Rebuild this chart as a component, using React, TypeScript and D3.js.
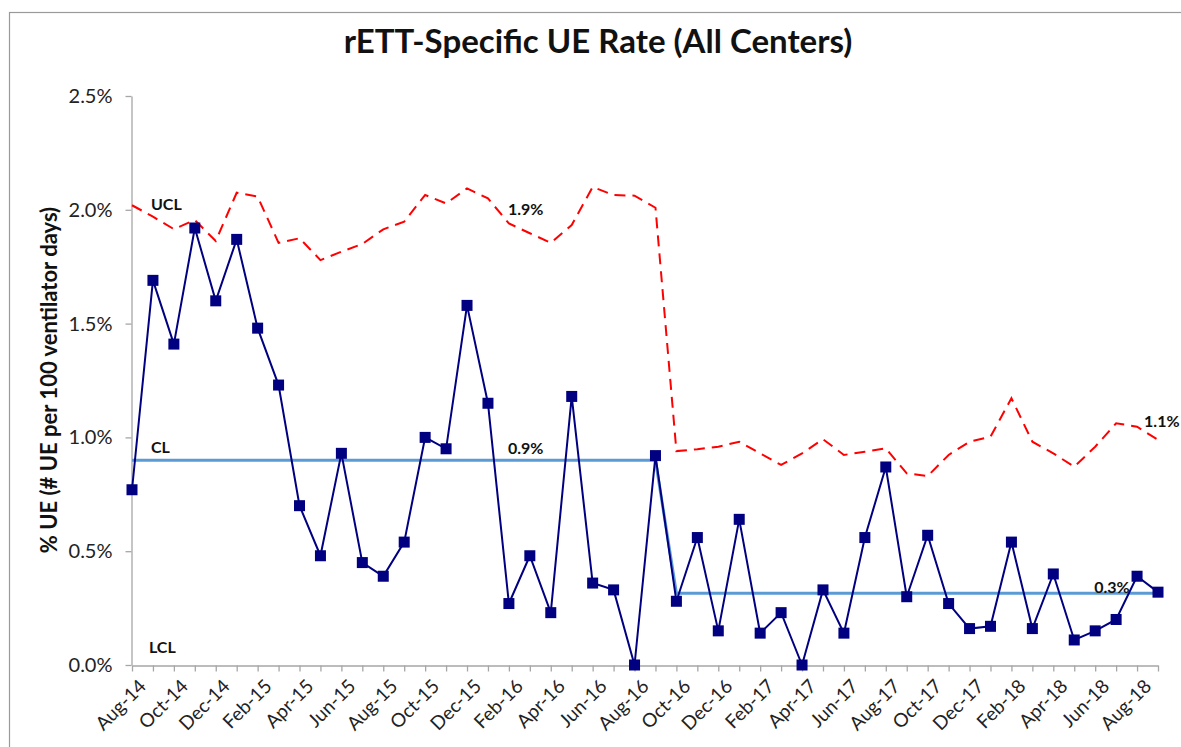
import React, { useRef, useEffect } from 'react';
import * as d3 from 'd3';

// monthly categories, Aug-14 .. Sep-18
const months = [
  'Aug-14', 'Sep-14', 'Oct-14', 'Nov-14', 'Dec-14', 'Jan-15', 'Feb-15', 'Mar-15', 'Apr-15', 'May-15',
  'Jun-15', 'Jul-15', 'Aug-15', 'Sep-15', 'Oct-15', 'Nov-15', 'Dec-15', 'Jan-16', 'Feb-16', 'Mar-16',
  'Apr-16', 'May-16', 'Jun-16', 'Jul-16', 'Aug-16', 'Sep-16', 'Oct-16', 'Nov-16', 'Dec-16', 'Jan-17',
  'Feb-17', 'Mar-17', 'Apr-17', 'May-17', 'Jun-17', 'Jul-17', 'Aug-17', 'Sep-17', 'Oct-17', 'Nov-17',
  'Dec-17', 'Jan-18', 'Feb-18', 'Mar-18', 'Apr-18', 'May-18', 'Jun-18', 'Jul-18', 'Aug-18', 'Sep-18',
];

// % UE per 100 ventilator days
const rate = [
  0.77, 1.69, 1.41, 1.92, 1.60, 1.87, 1.48, 1.23, 0.70, 0.48,
  0.93, 0.45, 0.39, 0.54, 1.00, 0.95, 1.58, 1.15, 0.27, 0.48,
  0.23, 1.18, 0.36, 0.33, 0.00, 0.92, 0.28, 0.56, 0.15, 0.64,
  0.14, 0.23, 0.00, 0.33, 0.14, 0.56, 0.87, 0.30, 0.57, 0.27,
  0.16, 0.17, 0.54, 0.16, 0.40, 0.11, 0.15, 0.20, 0.39, 0.32,
];

const ucl = [
  2.02, 1.97, 1.915, 1.955, 1.863, 2.075, 2.058, 1.855, 1.875, 1.779,
  1.816, 1.85, 1.914, 1.948, 2.065, 2.028, 2.094, 2.05, 1.94, 1.897,
  1.855, 1.933, 2.10, 2.065, 2.062, 2.009, 0.94, 0.948, 0.959, 0.981,
  0.93, 0.879, 0.93, 0.992, 0.923, 0.937, 0.952, 0.842, 0.83, 0.923,
  0.981, 1.003, 1.172, 0.981, 0.93, 0.871, 0.959, 1.062, 1.047, 0.989,
];

// centre line per phase (first/last month index of each phase)
const phaseStart = [0, 26];
const phaseEnd = [25, 49];
const phaseCL = [0.9, 0.315];

const yTicks = [0, 0.5, 1.0, 1.5, 2.0, 2.5];

// line labels and value call-outs
const lineLabels = ['UCL', 'CL', 'LCL'];
const lineLabelY = [2.01, 0.94, 0.06];
const callouts = ['1.9%', '0.9%', '1.1%', '0.3%'];
const calloutMonth = ['Feb-16', 'Feb-16', 'Aug-18', 'Jun-18'];
const calloutDx = [0, 0, 8, 0];
const calloutY = [1.98, 0.93, 1.05, 0.32];

const FONT = 'Lato, "Open Sans", sans-serif';

const App = () => {
  const svgRef = useRef(null);

  useEffect(() => {
    const svg = d3.select(svgRef.current);
    svg.selectAll('*').remove();

    const W = 1181;
    const H = 747;
    const left = 132;
    const right = 1158;
    const top = 96;
    const bottom = 665;

    svg.attr('width', W).attr('height', H).style('background', '#fff');

    // chart area border
    svg.append('rect')
      .attr('x', 9.5).attr('y', 12.5)
      .attr('width', W + 20).attr('height', H + 20)
      .attr('fill', 'none')
      .attr('stroke', '#9a9a9a')
      .attr('stroke-width', 1.2);

    const x = d3.scalePoint().domain(months).range([left, right]);
    const y = d3.scaleLinear().domain([0, 2.5]).range([bottom, top]);

    const cl = months.map((m, i) => {
      const p = phaseStart.findIndex((s, k) => i >= s && i <= phaseEnd[k]);
      return phaseCL[p];
    });

    // y axis
    const yAxis = svg.append('g')
      .attr('transform', `translate(${left - 0.5},0)`)
      .call(d3.axisLeft(y).tickValues(yTicks).tickSize(6).tickSizeOuter(0).tickPadding(13)
        .tickFormat((d) => d3.format('.1f')(d) + '%'));
    yAxis.select('.domain').attr('stroke', '#a6a6a6').attr('stroke-width', 1.3);
    yAxis.selectAll('.tick line').attr('stroke', '#a6a6a6').attr('stroke-width', 1.3);
    yAxis.selectAll('text')
      .attr('fill', '#222')
      .style('font-family', FONT)
      .style('font-size', '20px');

    // x axis
    const xAxis = svg.append('g')
      .attr('transform', `translate(0,${bottom + 0.5})`)
      .call(d3.axisBottom(x).tickSize(6).tickSizeOuter(0).tickFormat(() => ''));
    xAxis.select('.domain').attr('stroke', '#a6a6a6').attr('stroke-width', 1.3);
    xAxis.selectAll('.tick line').attr('stroke', '#a6a6a6').attr('stroke-width', 1.3);

    svg.append('g')
      .selectAll('text')
      .data(months.filter((m, i) => i % 2 === 0))
      .enter().append('text')
      .attr('transform', (d) => `translate(${x(d) + 6},${bottom + 13}) rotate(-45)`)
      .attr('text-anchor', 'end')
      .attr('dy', '0.7em')
      .style('font-family', FONT)
      .style('font-size', '19px')
      .attr('fill', '#222')
      .text((d) => d);

    // UCL
    const line = d3.line().x((d, i) => x(months[i])).y((d) => y(d));
    svg.append('path')
      .datum(ucl)
      .attr('d', line)
      .attr('fill', 'none')
      .attr('stroke', '#ff0000')
      .attr('stroke-width', 2)
      .attr('stroke-dasharray', '11,7');

    // CL
    svg.append('path')
      .datum(cl)
      .attr('d', line)
      .attr('fill', 'none')
      .attr('stroke', '#5b9bd5')
      .attr('stroke-width', 3);

    // rate
    svg.append('path')
      .datum(rate)
      .attr('d', line)
      .attr('fill', 'none')
      .attr('stroke', '#000080')
      .attr('stroke-width', 2);

    svg.append('g')
      .selectAll('rect')
      .data(rate)
      .enter().append('rect')
      .attr('x', (d, i) => x(months[i]) - 5.5)
      .attr('y', (d) => y(d) - 5.5)
      .attr('width', 11)
      .attr('height', 11)
      .attr('fill', '#000080');

    // annotations
    const noteStyle = (sel) => sel
      .style('font-family', FONT)
      .style('font-size', '16px')
      .style('font-weight', 'bold')
      .attr('fill', '#111');

    svg.append('g')
      .selectAll('text')
      .data(lineLabels)
      .enter().append('text')
      .attr('x', (d, i) => x(months[1]) - 2 + (i === 2 ? -2 : 0))
      .attr('y', (d, i) => y(lineLabelY[i]) + 2)
      .call(noteStyle)
      .text((d) => d);

    svg.append('g')
      .selectAll('text')
      .data(callouts)
      .enter().append('text')
      .attr('x', (d, i) => x(calloutMonth[i]) - 1 + calloutDx[i])
      .attr('y', (d, i) => y(calloutY[i]) + 1)
      .call(noteStyle)
      .text((d) => d);

    // title
    svg.append('text')
      .attr('x', 598)
      .attr('y', 53)
      .attr('text-anchor', 'middle')
      .style('font-family', FONT)
      .style('font-size', '33px')
      .style('font-weight', 'bold')
      .attr('fill', '#111')
      .text('rETT-Specific UE Rate (All Centers)');

    // y title
    svg.append('text')
      .attr('transform', 'translate(57,380) rotate(-90)')
      .attr('text-anchor', 'middle')
      .style('font-family', FONT)
      .style('font-size', '22px')
      .style('font-weight', 'bold')
      .attr('fill', '#111')
      .text('% UE (# UE per 100 ventilator days)');
  }, []);

  return (
    <div style={{ position: 'absolute', left: 0, top: 0 }}>
      <svg ref={svgRef} style={{ display: 'block' }}></svg>
    </div>
  );
};

export default App;
